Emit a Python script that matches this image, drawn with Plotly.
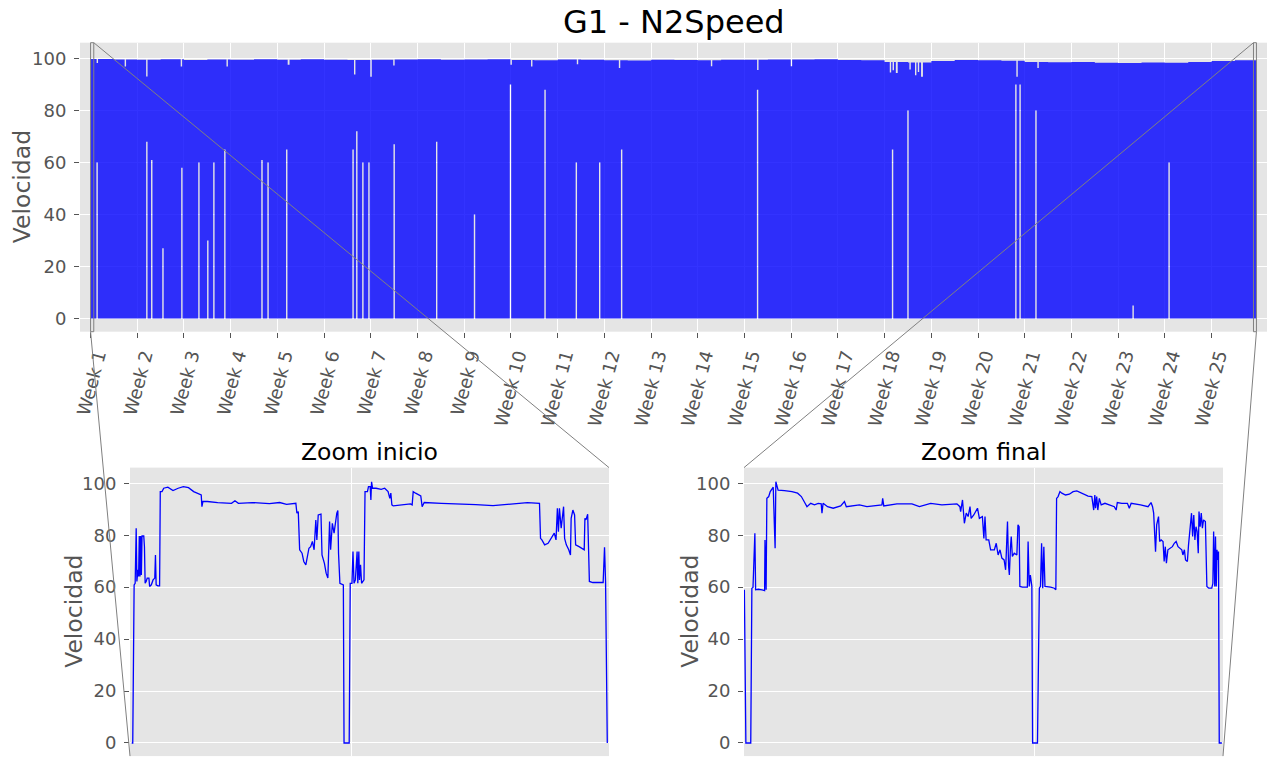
import plotly.graph_objects as go

# ---------------------------------------------------------------------------
# Data
# ---------------------------------------------------------------------------
HOURS_PER_WEEK = 168.0

week_tick_pos = [0, 1, 2, 3, 4, 5, 6, 7, 8, 9, 10, 11, 12, 13, 14, 15, 16,
                 17, 18, 19, 20, 21, 22, 23, 24]
week_tick_labels = ["Week 1", "Week 2", "Week 3", "Week 4", "Week 5",
                    "Week 6", "Week 7", "Week 8", "Week 9", "Week 10",
                    "Week 11", "Week 12", "Week 13", "Week 14", "Week 15",
                    "Week 16", "Week 17", "Week 18", "Week 19", "Week 20",
                    "Week 21", "Week 22", "Week 23", "Week 24", "Week 25"]

# length of the whole record, in weeks
record_end_week = 24.96

# peak speed reached in each half-week block of the record
block_week = [0.0, 0.5, 1.0, 1.5, 2.0, 2.5, 3.0, 3.5, 4.0, 4.5,
              5.0, 5.5, 6.0, 6.5, 7.0, 7.5, 8.0, 8.5, 9.0, 9.5,
              10.0, 10.5, 11.0, 11.5, 12.0, 12.5, 13.0, 13.5, 14.0, 14.5,
              15.0, 15.5, 16.0, 16.5, 17.0, 17.5, 18.0, 18.5, 19.0, 19.5,
              20.0, 20.5, 21.0, 21.5, 22.0, 22.5, 23.0, 23.5, 24.0, 24.5]
block_max = [99.8, 99.6, 99.5, 99.7, 99.4, 99.6, 99.5, 99.7, 99.5, 99.7,
             99.5, 99.4, 99.5, 99.6, 99.7, 99.5, 99.6, 99.7, 99.4, 99.3,
             99.6, 99.5, 99.3, 99.2, 99.5, 99.4, 99.3, 99.5, 99.5, 99.6,
             99.6, 99.7, 99.4, 99.3, 98.6, 98.4, 99.0, 99.4, 99.3, 99.1,
             98.6, 98.5, 98.6, 98.3, 98.2, 98.4, 98.3, 98.6, 99.0, 99.3]

# cycles that peaked lower than their neighbours (week from, week to, peak)
dip_from = [0.13, 0.73, 1.19, 1.93, 2.91, 4.22, 5.64, 5.99, 6.48, 8.99,
            9.43, 10.41, 11.31, 13.28, 14.27, 14.99, 17.11, 17.17, 17.24,
            17.53, 17.65, 17.71, 17.78, 19.82, 20.27]
dip_to = [0.16, 0.76, 1.22, 1.96, 2.94, 4.26, 5.67, 6.02, 6.51, 9.02,
          9.46, 10.44, 11.34, 13.31, 14.30, 15.02, 17.14, 17.20, 17.28,
          17.56, 17.68, 17.74, 17.82, 19.85, 20.30]
dip_max = [98.2, 96.9, 93.1, 96.9, 96.9, 97.6, 93.8, 93.0, 97.3, 97.6,
           96.9, 97.8, 96.3, 97.0, 95.6, 97.0, 94.6, 95.5, 94.4,
           95.7, 93.5, 94.8, 93.0, 93.0, 96.3]

# cycles where the machine did not come to a full stop (week, lowest speed)
gap_week = [0.14, 1.205, 1.31, 1.55, 1.955, 2.32, 2.51, 2.64, 2.875, 3.67,
            3.80, 4.20, 5.62, 5.70, 5.83, 5.96, 6.50, 7.41, 8.22, 8.99,
            9.73, 10.40, 10.90, 11.37, 14.28, 17.17, 17.50, 19.81, 19.90,
            20.24, 22.32, 23.09]
gap_min = [60, 68, 61, 27, 58, 60, 30, 60, 65, 61,
           60, 65, 65, 72, 60, 60, 67, 68, 40, 90,
           88, 60, 60, 65, 88, 65, 80, 90, 90,
           80, 5, 60]

# first hours of the record (minutes from start, speed)
inicio_min = [0, 1.5, 3.5, 5, 6.5, 7.5, 9, 10, 11, 12, 13, 14, 15, 17.5,
              18.5, 19.5, 21, 22.5, 25, 26, 28.5, 31, 33.5, 34.5, 35.5, 38,
              40.5, 41.5, 44, 46.5, 52.5, 60, 67.5, 75, 82.5, 90, 101, 102,
              103.5, 110, 125, 145, 150, 155, 175, 200, 215, 225, 238.5,
              240, 242, 244, 247.5, 250, 253, 255, 257.5, 260, 262.5, 265,
              267.5, 269, 271, 275, 276.5, 280, 282.5, 285, 287.5, 289,
              291.5, 294, 296, 298, 299.5, 300.5, 302.5, 307.5, 308.5, 316,
              317.5, 320, 321.5, 323, 325, 327.5, 328.5, 330, 331, 332.5,
              334, 337.5, 339, 342.5, 344, 346.5, 347.5, 348.5, 350, 355,
              362.5, 367.5, 372.5, 375, 376.5, 378, 380, 390, 405, 407.5,
              409, 412.5, 420, 422, 425, 450, 475, 500, 525, 550, 565, 575,
              592.5, 594, 596, 600, 605, 610, 614, 616.5, 618.5, 620, 621.5,
              624, 627.5, 629, 631.5, 635, 637.5, 638.5, 641, 643.5, 645,
              650, 657.5, 658.5, 660, 662.5, 665, 670, 685, 687, 688.5, 691]
inicio_val = [0, 0, 60.9, 61.5, 82.7, 62.2, 66.7, 64.1, 79.7, 64.1, 79.7,
              64.7, 79.7, 79.7, 75.6, 61.5, 62.2, 63.5, 63.5, 60.3, 60.9,
              62.8, 63.5, 72.4, 60.9, 60.5, 60.5, 96.8, 96.8, 98.1, 98.5,
              97.2, 98.1, 98.7, 98.3, 96.8, 95.5, 91.0, 93.0, 93.0, 92.6,
              92.3, 93.3, 92.3, 92.6, 92.2, 92.6, 91.9, 92.3, 88.5, 89.1,
              74.4, 73.1, 69.9, 68.6, 71.8, 75.0, 75.6, 77.6, 74.4, 85.9,
              78.2, 87.8, 88.1, 72.4, 69.2, 65.4, 63.5, 85.3, 74.4, 84.6,
              80.8, 85.3, 88.5, 89.5, 73.1, 61.5, 60.9, 0, 0, 61.5, 61.5,
              73.7, 61.5, 62.8, 73.7, 61.5, 73.7, 62.8, 68.6, 61.5, 62.8,
              96.8, 96.8, 98.7, 98.7, 93.6, 100.6, 98.1, 98.1, 97.7, 98.1,
              96.8, 94.2, 96.2, 91.7, 91.3, 91.7, 92.1, 91.7, 96.8, 96.2,
              95.1, 91.0, 92.6, 92.3, 92.1, 91.8, 91.4, 92.1, 92.3, 92.6,
              92.3, 78.8, 78.2, 76.3, 76.9, 78.8, 80.8, 78.2, 90.4, 81.4,
              90.4, 82.7, 91.0, 78.8, 76.3, 74.4, 72.4, 86.5, 89.7, 87.8,
              76.3, 75.6, 74.4, 86.5, 85.9, 88.1, 62.2, 61.8, 61.8, 75.4,
              62.2, 0]

# last hours of the record (minutes from start of the window, speed)
final_min = [0, 2, 8.5, 10, 11.5, 13, 14, 15, 18.5, 23.5, 27, 27.5, 28, 29,
             30, 32.5, 34.5, 37, 38.5, 40, 41, 42, 43.5, 45, 53.5, 63.5, 71,
             76, 81, 83.5, 88.5, 93.5, 98.5, 102.5, 103.5, 105, 111, 118.5,
             128.5, 133.5, 136, 153.5, 163.5, 183.5, 184.5, 186, 203.5,
             223.5, 233.5, 248.5, 263.5, 283.5, 287.5, 288.5, 291, 293.5,
             296, 298.5, 301, 302.5, 306, 311, 313.5, 317.5, 319.5, 321,
             322.5, 326, 328.5, 333.5, 336, 338.5, 341, 343.5, 346.5, 348.5,
             349.5, 351, 352.5, 353.5, 355, 356, 357.5, 360, 363.5, 365,
             366.5, 367.5, 371, 377.5, 378.5, 380, 381.5, 383.5, 384.5, 391,
             393.5, 395, 396.5, 398, 399.5, 401, 408.5, 413.5, 415.5, 416.5,
             418.5, 421, 423.5, 428.5, 433.5, 438.5, 443.5, 448.5, 453.5,
             458.5, 463.5, 466, 467.5, 468.5, 470, 471.5, 473.5, 476, 481,
             486, 493.5, 496, 497.5, 503.5, 511, 513.5, 516, 528.5, 538.5,
             542.5, 544.5, 546, 548.5, 550, 552.5, 554, 556, 558.5, 560,
             561.5, 563, 565, 567.5, 571, 573.5, 576, 578.5, 581, 583.5,
             585, 587, 588.5, 591, 592.5, 594.5, 596.5, 598, 599.5, 601,
             602.5, 604, 605.5, 606.5, 608, 609.5, 611, 612.5, 615, 617,
             619.5, 623.5, 625, 626, 627.5, 628.5, 629.5, 630.5, 631.5,
             632.5, 633.5, 637]
final_val = [59.0, 0, 0, 59.6, 59.9, 80.8, 80.8, 59.0, 59.2, 59.0, 58.7,
             78.2, 59.0, 59.0, 94.2, 94.9, 96.8, 98.1, 98.5, 84.0, 75.0,
             100.6, 98.5, 97.4, 97.2, 96.8, 96.2, 94.9, 92.3, 91.0, 92.3,
             91.7, 92.3, 92.1, 88.5, 92.3, 91.0, 90.4, 91.3, 93.0, 91.0,
             91.7, 91.0, 91.7, 94.2, 91.3, 92.1, 92.1, 91.0, 92.3, 91.7,
             92.1, 91.0, 89.1, 93.6, 84.6, 88.5, 87.2, 91.0, 86.5, 87.8,
             90.4, 86.5, 87.2, 78.8, 87.2, 78.2, 78.2, 74.4, 74.4, 76.9,
             72.4, 74.4, 71.2, 70.5, 66.7, 73.7, 85.3, 68.0, 64.7, 75.6,
             79.5, 71.8, 73.1, 72.4, 84.0, 83.3, 60.3, 60.0, 60.0, 77.6,
             60.3, 64.7, 60.3, 0, 0, 59.6, 60.3, 76.9, 59.6, 75.6, 60.3,
             60.0, 59.6, 59.0, 94.2, 94.9, 96.8, 96.2, 95.5, 95.8, 96.8,
             97.1, 96.4, 95.8, 95.1, 94.9, 89.7, 95.5, 90.4, 94.9, 89.7,
             94.2, 91.7, 92.3, 91.7, 91.0, 89.7, 92.6, 92.3, 92.3, 90.4,
             92.3, 91.7, 91.0, 92.6, 91.0, 88.5, 73.7, 84.0, 87.2, 77.6,
             78.2, 77.6, 69.9, 75.6, 69.2, 74.4, 75.0, 75.6, 76.9, 77.6,
             75.6, 75.0, 74.4, 72.4, 74.4, 70.5, 69.9, 76.3, 81.4, 88.5,
             79.5, 87.8, 78.2, 83.3, 81.4, 73.1, 89.1, 83.3, 88.5, 82.7,
             85.9, 85.3, 60.3, 59.6, 59.6, 61.5, 81.4, 60.3, 79.5, 60.3,
             74.4, 70.5, 73.7, 0, 0]

# day boundary inside each zoom window (minutes from window start)
inicio_grid_min = [319.5]
final_grid_min = [387.5]

y_ticks = [0, 20, 40, 60, 80, 100]

# ---------------------------------------------------------------------------
# Layout constants (pixels of the 1267 x 757 canvas)
# ---------------------------------------------------------------------------
W, H = 1267, 757
FONT = "DejaVu Sans"
TICK_GREY = "#555555"
PANEL_BG = "#E5E5E5"
Y_RANGE = [-5.05, 106.05]
COL_W = 0.03          # width (weeks) of a single cycle column
TOP_PAD_H = 38.0      # horizontal padding of the main axis, hours


def px_x(px):
    return px / W


def px_y(py):
    return 1 - py / H


top_dom_x = [px_x(80), px_x(1267)]
top_dom_y = [px_y(331.7), px_y(42.7)]
ini_dom_x = [px_x(130), px_x(609)]
fin_dom_x = [px_x(744), px_x(1223)]
ins_dom_y = [px_y(756.1), px_y(467.6)]

# ---------------------------------------------------------------------------
# Main record drawn as a band between the lowest and highest speed
# ---------------------------------------------------------------------------
gaps = [(c - COL_W / 2, c + COL_W / 2, v) for c, v in zip(gap_week, gap_min)]
cuts = set(block_week) | {record_end_week}
for a, b in zip(dip_from, dip_to):
    cuts |= {a, b}
for a, b, _ in gaps:
    cuts |= {a, b}
cuts = sorted(c for c in cuts if 0 <= c <= record_end_week)

band_h, band_hi, band_lo = [], [], []
for a, b in zip(cuts[:-1], cuts[1:]):
    m = 0.5 * (a + b)
    blk = max(i for i, w in enumerate(block_week) if w <= m)
    hi = block_max[blk]
    for da, db, dv in zip(dip_from, dip_to, dip_max):
        if da <= m < db:
            hi = min(hi, dv)
    lo = 0.0
    for ga, gb, gv in gaps:
        if ga <= m < gb:
            lo = max(lo, gv)
    band_h.append(a * HOURS_PER_WEEK)
    band_hi.append(hi)
    band_lo.append(lo)
band_h.append(cuts[-1] * HOURS_PER_WEEK)
band_hi.append(band_hi[-1])
band_lo.append(band_lo[-1])

record_end_h = record_end_week * HOURS_PER_WEEK
top_range = [-TOP_PAD_H, record_end_h + TOP_PAD_H]

ini_span_h = (max(inicio_min) - min(inicio_min)) / 60.0
fin_span_h = (max(final_min) - min(final_min)) / 60.0
ini_range = [min(inicio_min) - 2.5, max(inicio_min) + 2.5]
fin_range = [min(final_min) - 0.5, max(final_min) + 1.5]

fig = go.Figure()

fig.add_trace(go.Scatter(
    x=band_h, y=band_lo, mode="lines",
    line=dict(width=0, shape="hv", color="rgba(0,0,255,0)"),
    xaxis="x", yaxis="y", hoverinfo="skip", showlegend=False))
fig.add_trace(go.Scatter(
    x=band_h, y=band_hi, mode="lines",
    line=dict(width=0, shape="hv", color="rgba(0,0,255,0.8)"),
    fill="tonexty", fillcolor="rgba(0,0,255,0.8)",
    xaxis="x", yaxis="y", hoverinfo="skip", showlegend=False))

fig.add_trace(go.Scatter(
    x=inicio_min, y=inicio_val, mode="lines",
    line=dict(width=1.3, color="#0000FF"),
    xaxis="x2", yaxis="y2", showlegend=False))
fig.add_trace(go.Scatter(
    x=final_min, y=final_val, mode="lines",
    line=dict(width=1.3, color="#0000FF"),
    xaxis="x3", yaxis="y3", showlegend=False))

tick_font = dict(family=FONT, size=18, color=TICK_GREY)

y_common = dict(
    range=Y_RANGE, tickvals=y_ticks, showgrid=True, gridcolor="white",
    gridwidth=1.2, zeroline=False, showline=False, ticks="outside",
    ticklen=5, tickcolor=TICK_GREY, tickfont=tick_font, automargin=False,
    ticklabelstandoff=4)

fig.update_layout(
    width=W, height=H,
    margin=dict(l=0, r=0, t=0, b=0),
    paper_bgcolor="white", plot_bgcolor=PANEL_BG,
    showlegend=False,
    xaxis=dict(domain=top_dom_x, anchor="y", range=top_range,
               tickvals=[w * HOURS_PER_WEEK for w in week_tick_pos],
               ticktext=week_tick_labels, tickangle=-75, ticklabelshift=7,
               showgrid=True, gridcolor="white", gridwidth=1.2,
               zeroline=False, showline=False, ticks="outside", ticklen=5,
               tickcolor=TICK_GREY, tickfont=tick_font, automargin=False),
    yaxis=dict(domain=top_dom_y, anchor="x", **y_common),
    xaxis2=dict(domain=ini_dom_x, anchor="y2", range=ini_range,
                tickvals=inicio_grid_min, showticklabels=False,
                showgrid=True, gridcolor="white", gridwidth=1.2,
                zeroline=False, showline=False, ticks="", automargin=False),
    yaxis2=dict(domain=ins_dom_y, anchor="x2", **y_common),
    xaxis3=dict(domain=fin_dom_x, anchor="y3", range=fin_range,
                tickvals=final_grid_min, showticklabels=False,
                showgrid=True, gridcolor="white", gridwidth=1.2,
                zeroline=False, showline=False, ticks="", automargin=False),
    yaxis3=dict(domain=ins_dom_y, anchor="x3", **y_common),
)


# ---------------------------------------------------------------------------
# Zoom indicators: rectangles on the main axis plus connector lines
# ---------------------------------------------------------------------------
def top_paper_x(hours):
    f = (hours - top_range[0]) / (top_range[1] - top_range[0])
    return top_dom_x[0] + f * (top_dom_x[1] - top_dom_x[0])


ini_x0, ini_x1 = 0.0, ini_span_h
fin_x0, fin_x1 = record_end_h - fin_span_h, record_end_h
line_style = dict(color="#808080", width=1)

shapes = [
    dict(type="rect", xref="x", yref="y domain", x0=ini_x0, x1=ini_x1,
         y0=0, y1=1, line=line_style, layer="above"),
    dict(type="rect", xref="x", yref="y domain", x0=fin_x0, x1=fin_x1,
         y0=0, y1=1, line=line_style, layer="above"),
    dict(type="line", xref="paper", yref="paper",
         x0=top_paper_x(ini_x1), y0=top_dom_y[1],
         x1=ini_dom_x[1], y1=ins_dom_y[1], line=line_style, layer="above"),
    dict(type="line", xref="paper", yref="paper",
         x0=top_paper_x(ini_x0), y0=top_dom_y[0],
         x1=ini_dom_x[0], y1=ins_dom_y[0], line=line_style, layer="above"),
    dict(type="line", xref="paper", yref="paper",
         x0=top_paper_x(fin_x0), y0=top_dom_y[1],
         x1=fin_dom_x[0], y1=ins_dom_y[1], line=line_style, layer="above"),
    dict(type="line", xref="paper", yref="paper",
         x0=top_paper_x(fin_x1), y0=top_dom_y[0],
         x1=fin_dom_x[1], y1=ins_dom_y[0], line=line_style, layer="above"),
]
fig.update_layout(shapes=shapes)

# ---------------------------------------------------------------------------
# Titles and axis labels
# ---------------------------------------------------------------------------
label_font = dict(family=FONT, size=23.5, color=TICK_GREY)
title_font = dict(family=FONT, size=23.5, color="black")

annotations = [
    dict(text="G1 - N2Speed", x=(top_dom_x[0] + top_dom_x[1]) / 2,
         y=px_y(22), xref="paper", yref="paper", showarrow=False,
         xanchor="center", yanchor="middle",
         font=dict(family=FONT, size=32, color="black")),
    dict(text="Zoom inicio", x=(ini_dom_x[0] + ini_dom_x[1]) / 2,
         y=px_y(452), xref="paper", yref="paper", showarrow=False,
         xanchor="center", yanchor="middle", font=title_font),
    dict(text="Zoom final", x=(fin_dom_x[0] + fin_dom_x[1]) / 2,
         y=px_y(452), xref="paper", yref="paper", showarrow=False,
         xanchor="center", yanchor="middle", font=title_font),
    dict(text="Velocidad", x=px_x(22), y=(top_dom_y[0] + top_dom_y[1]) / 2,
         xref="paper", yref="paper", showarrow=False, textangle=-90,
         xanchor="center", yanchor="middle", font=label_font),
    dict(text="Velocidad", x=px_x(74), y=(ins_dom_y[0] + ins_dom_y[1]) / 2,
         xref="paper", yref="paper", showarrow=False, textangle=-90,
         xanchor="center", yanchor="middle", font=label_font),
    dict(text="Velocidad", x=px_x(690), y=(ins_dom_y[0] + ins_dom_y[1]) / 2,
         xref="paper", yref="paper", showarrow=False, textangle=-90,
         xanchor="center", yanchor="middle", font=label_font),
]
fig.update_layout(annotations=annotations)

fig.write_html("out.html")
